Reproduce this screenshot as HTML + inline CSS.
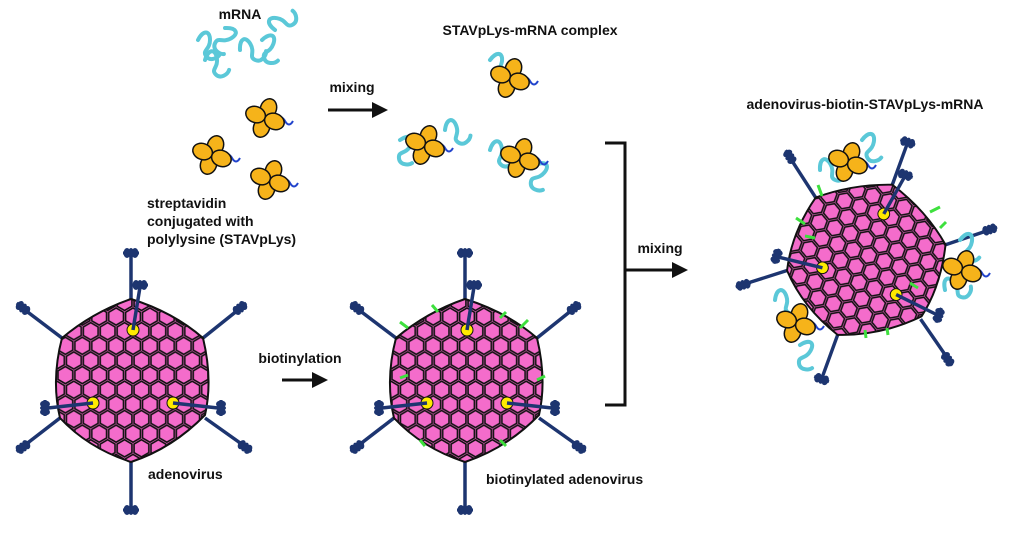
<!DOCTYPE html>
<html><head><style>
body{margin:0;background:#fff;width:1024px;height:533px;overflow:hidden}
svg text{font-family:"Liberation Sans",sans-serif;font-weight:bold;font-size:14px;fill:#111}
</style></head><body>
<svg width="1024" height="533" viewBox="0 0 1024 533" xmlns="http://www.w3.org/2000/svg">
<defs>
<pattern id="hx" width="13.86" height="24" patternUnits="userSpaceOnUse" patternTransform="scale(1.22)">
<rect width="13.86" height="24" fill="#f46ccb"/>
<g fill="#f46ccb" stroke="#111" stroke-width="1.3">
<polygon points="0,-7 6.06,-3.5 6.06,3.5 0,7 -6.06,3.5 -6.06,-3.5" transform="translate(6.93,8)"/>
<polygon points="0,-7 6.06,-3.5 6.06,3.5 0,7 -6.06,3.5 -6.06,-3.5" transform="translate(0,20)"/>
<polygon points="0,-7 6.06,-3.5 6.06,3.5 0,7 -6.06,3.5 -6.06,-3.5" transform="translate(13.86,20)"/>
<polygon points="0,-7 6.06,-3.5 6.06,3.5 0,7 -6.06,3.5 -6.06,-3.5" transform="translate(0,-4)"/>
<polygon points="0,-7 6.06,-3.5 6.06,3.5 0,7 -6.06,3.5 -6.06,-3.5" transform="translate(13.86,-4)"/>
<polygon points="0,-7 6.06,-3.5 6.06,3.5 0,7 -6.06,3.5 -6.06,-3.5" transform="translate(6.93,32)"/>
</g>
</pattern>
<g id="knob"><ellipse cx="-4" cy="0" rx="3.5" ry="5" fill="#1d3570"/><ellipse cx="0" cy="0" rx="3" ry="5" fill="#1d3570"/><ellipse cx="4" cy="0" rx="3.5" ry="5" fill="#1d3570"/><rect x="-8" y="-1.5" width="16" height="3" fill="#1d3570"/></g>
<g id="virus">
<g stroke="#1d3570" stroke-width="3.5">
<line x1="-2" y1="-81" x2="-2" y2="-125"/><line x1="70" y1="-42" x2="105" y2="-70"/><line x1="-71" y1="-42" x2="-108" y2="-70"/>
<line x1="72" y1="38" x2="110" y2="65"/><line x1="-73" y1="38" x2="-108" y2="65"/><line x1="-2" y1="82" x2="-2" y2="128"/>
</g>
<path d="M-2,-81 Q40,-68 70,-42 Q80,0 72,35 Q40,68 -2,82 Q-45,68 -73,38 Q-82,0 -71,-42 Q-40,-68 -2,-81Z" fill="url(#hx)" stroke="#111" stroke-width="2"/>
<g fill="#ffeb00" stroke="#111" stroke-width="1"><circle cx="0" cy="-50" r="6"/><circle cx="-40" cy="23" r="6"/><circle cx="40" cy="23" r="6"/></g>
<g stroke="#1d3570" stroke-width="3.5"><line x1="0" y1="-50" x2="7" y2="-93"/><line x1="-40" y1="23" x2="-85" y2="28"/><line x1="40" y1="23" x2="85" y2="28"/></g>
<use href="#knob" transform="translate(-2,-127)"/><use href="#knob" transform="translate(7,-95)"/>
<use href="#knob" transform="translate(107,-72) rotate(-38)"/><use href="#knob" transform="translate(-110,-72) rotate(38)"/>
<use href="#knob" transform="translate(112,67) rotate(36)"/><use href="#knob" transform="translate(-110,67) rotate(-36)"/>
<use href="#knob" transform="translate(-2,130)"/><use href="#knob" transform="translate(-88,28) rotate(90)"/><use href="#knob" transform="translate(88,28) rotate(90)"/>
</g>
<g id="flower">
<path d="M12,3 q4,-7 8,0 q4,7 8,0" fill="none" stroke="#2244cc" stroke-width="2"/>
<g fill="#f6b31a" stroke="#111" stroke-width="1.5">
<ellipse cx="0" cy="-10" rx="8" ry="10" transform="rotate(20)"/><ellipse cx="0" cy="10" rx="8" ry="10" transform="rotate(20)"/>
<ellipse cx="-10" cy="0" rx="10" ry="8" transform="rotate(20)"/><ellipse cx="10" cy="0" rx="10" ry="8" transform="rotate(20)"/>
</g></g>
<g id="rna"><path d="M0,0 c5,-10 12,-10 12,0 c0,10 -8,10 -4,16 c4,6 12,2 14,-2" fill="none" stroke="#5bc8d8" stroke-width="4" stroke-linecap="round"/></g>
<marker id="ar" markerWidth="16" markerHeight="16" refX="2" refY="8" orient="auto" markerUnits="userSpaceOnUse"><path d="M0,0 L16,8 L0,16z" fill="#111"/></marker>
</defs>

<text x="240" y="19" text-anchor="middle">mRNA</text>
<text x="530" y="35" text-anchor="middle">STAVpLys-mRNA complex</text>
<text x="352" y="92" text-anchor="middle">mixing</text>
<line x1="328" y1="110" x2="374" y2="110" stroke="#111" stroke-width="3" marker-end="url(#ar)"/>
<text x="147" y="208">streptavidin</text><text x="147" y="226">conjugated with</text><text x="147" y="244">polylysine (STAVpLys)</text>
<text x="148" y="479">adenovirus</text>
<text x="300" y="363" text-anchor="middle">biotinylation</text>
<line x1="282" y1="380" x2="314" y2="380" stroke="#111" stroke-width="3" marker-end="url(#ar)"/>
<text x="486" y="484">biotinylated adenovirus</text>
<path d="M605,143 H625 V405 H605" fill="none" stroke="#111" stroke-width="3"/>
<line x1="625" y1="270" x2="674" y2="270" stroke="#111" stroke-width="3" marker-end="url(#ar)"/>
<text x="660" y="253" text-anchor="middle">mixing</text>
<text x="865" y="109" text-anchor="middle">adenovirus-biotin-STAVpLys-mRNA</text>

<use href="#rna" transform="translate(198,40)"/><use href="#rna" transform="translate(225,28) rotate(60)"/><use href="#rna" transform="translate(240,50) rotate(-30)"/>
<use href="#rna" transform="translate(262,40) rotate(20)"/><use href="#rna" transform="translate(275,30) rotate(-80)"/><use href="#rna" transform="translate(205,60) rotate(-10)"/>
<use href="#flower" transform="translate(265,118)"/><use href="#flower" transform="translate(212,155)"/><use href="#flower" transform="translate(270,180)"/>
<use href="#rna" transform="translate(490,60) rotate(10)"/><use href="#flower" transform="translate(510,78)"/>
<use href="#rna" transform="translate(400,140) rotate(30)"/><use href="#rna" transform="translate(445,130) rotate(-20)"/><use href="#flower" transform="translate(425,145)"/>
<use href="#rna" transform="translate(490,150) rotate(-10)"/><use href="#rna" transform="translate(535,165) rotate(40)"/><use href="#flower" transform="translate(520,158)"/>

<use href="#virus" transform="translate(133,380)"/>
<use href="#virus" transform="translate(467,380)"/>
<g stroke="#3ee03e" stroke-width="3">
<line x1="400" y1="322" x2="408" y2="328"/><line x1="432" y1="305" x2="438" y2="312"/><line x1="500" y1="318" x2="506" y2="312"/><line x1="520" y1="328" x2="528" y2="320"/>
<line x1="400" y1="378" x2="408" y2="375"/><line x1="537" y1="380" x2="545" y2="376"/><line x1="420" y1="440" x2="425" y2="446"/><line x1="500" y1="440" x2="506" y2="446"/>
</g>
<use href="#virus" transform="translate(867,260) rotate(20) scale(0.98)"/>
<g stroke="#3ee03e" stroke-width="3">
<line x1="818" y1="185" x2="822" y2="196"/><line x1="796" y1="218" x2="805" y2="224"/><line x1="805" y1="236" x2="815" y2="238"/><line x1="930" y1="212" x2="940" y2="207"/>
<line x1="940" y1="228" x2="946" y2="222"/><line x1="945" y1="265" x2="955" y2="266"/><line x1="910" y1="283" x2="918" y2="288"/><line x1="865" y1="330" x2="866" y2="338"/><line x1="887" y1="328" x2="888" y2="335"/>
</g>
<use href="#rna" transform="translate(820,170) rotate(-30)"/><use href="#rna" transform="translate(862,140) rotate(10)"/><use href="#flower" transform="translate(848,162)"/>
<use href="#rna" transform="translate(960,240) rotate(10)"/><use href="#rna" transform="translate(945,290) rotate(-40)"/><use href="#flower" transform="translate(962,270)"/>
<use href="#rna" transform="translate(775,300) rotate(-20)"/><use href="#rna" transform="translate(800,345) rotate(30)"/><use href="#flower" transform="translate(796,323)"/>
</svg>
</body></html>
